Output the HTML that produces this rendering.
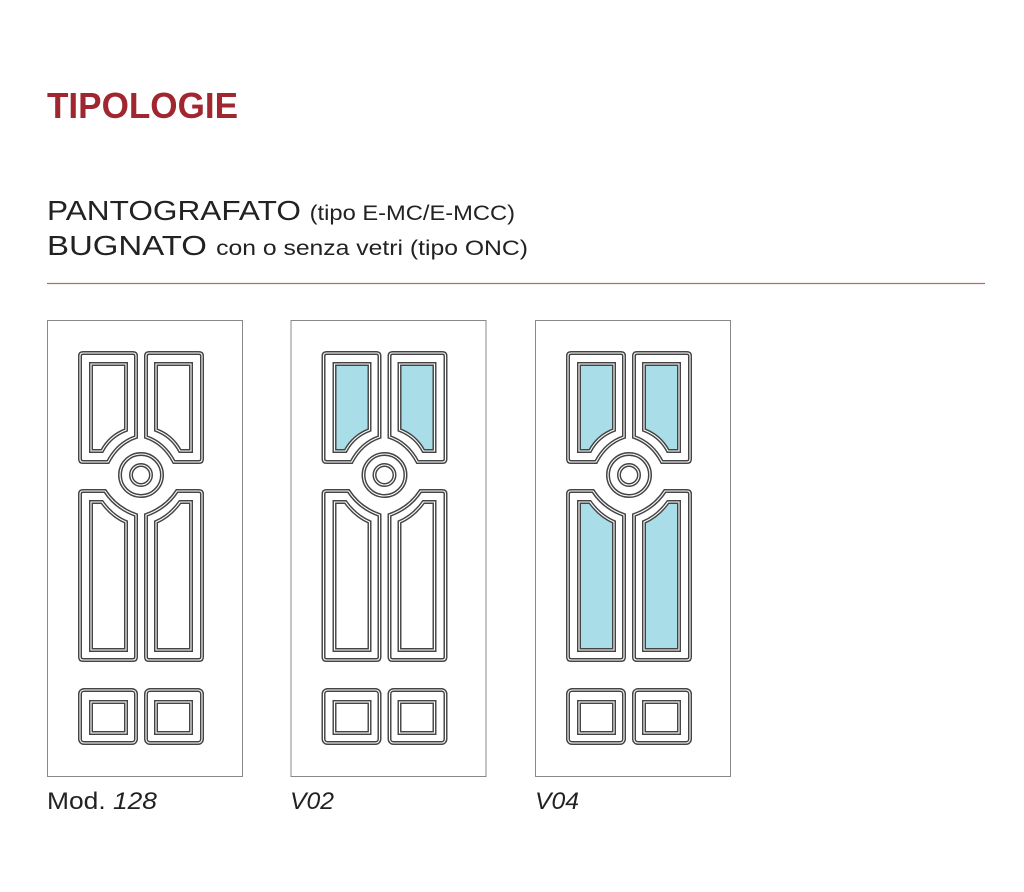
<!DOCTYPE html>
<html><head><meta charset="utf-8"><style>
html,body{margin:0;padding:0;background:#fff;}
svg{display:block;}
text{font-family:"Liberation Sans",sans-serif;}
</style></head><body>
<svg width="1024" height="892" viewBox="0 0 1024 892" xmlns="http://www.w3.org/2000/svg">
<defs>
  <path id="ulo" d="M80,356 q0,-3 3,-3 H133 q3,0 3,3 V437 Q118,443 108,462 H83 q-3,0 -3,-3 Z"/>
  <path id="uli" d="M91,364 H126 V430 Q110,436 102,451 H91 Z"/>
  <path id="llo" d="M83,491 H105 Q116,508 136,515 V657 q0,3 -3,3 H83 q-3,0 -3,-3 V494 q0,-3 3,-3 Z"/>
  <path id="lli" d="M91,502 H102 Q112,516 126,522 V650 H91 Z"/>
  <rect id="blo" x="80" y="690" width="56" height="53" rx="4"/>
  <rect id="bli" x="91" y="702" width="35" height="31"/>
  <g id="half">
    <use href="#ulo"/><use href="#uli"/><use href="#llo"/><use href="#lli"/><use href="#blo"/><use href="#bli"/>
  </g>
  <g id="panels">
    <use href="#half"/>
    <use href="#half" transform="translate(282,0) scale(-1,1)"/>
    <circle cx="141" cy="475" r="21"/>
    <circle cx="141" cy="475" r="10"/>
  </g>
  <g id="door">
    <rect x="47.5" y="320.5" width="195" height="456" fill="none" stroke="#888" stroke-width="1"/>
    <use href="#panels" fill="none" stroke="#444" stroke-width="4"/>
    <use href="#panels" fill="none" stroke="#fff" stroke-width="1.1"/>
  </g>
  <g id="glassU" fill="#a9dde8">
    <use href="#uli"/><use href="#uli" transform="translate(282,0) scale(-1,1)"/>
  </g>
  <g id="glassL" fill="#a9dde8">
    <use href="#lli"/><use href="#lli" transform="translate(282,0) scale(-1,1)"/>
  </g>
</defs>

<text x="47" y="118" font-size="36" font-weight="bold" fill="#a0262f" textLength="191" lengthAdjust="spacingAndGlyphs">TIPOLOGIE</text>
<text x="47" y="220" font-size="28" fill="#222" textLength="468" lengthAdjust="spacingAndGlyphs">PANTOGRAFATO <tspan font-size="21">(tipo E-MC/E-MCC)</tspan></text>
<text x="47" y="255" font-size="28" fill="#222" textLength="481" lengthAdjust="spacingAndGlyphs">BUGNATO <tspan font-size="21">con o senza vetri (tipo ONC)</tspan></text>
<line x1="47" y1="283.5" x2="985" y2="283.5" stroke="#c0666e" stroke-width="1.3"/>

<use href="#door"/>

<g transform="translate(243.5,0)">
  <use href="#glassU"/>
  <use href="#door"/>
</g>

<g transform="translate(488,0)">
  <use href="#glassU"/>
  <use href="#glassL"/>
  <use href="#door"/>
</g>

<text x="47" y="809" font-size="24" fill="#222" textLength="110" lengthAdjust="spacingAndGlyphs">Mod. <tspan font-style="italic">128</tspan></text>
<text x="290" y="809" font-size="24" fill="#222" font-style="italic" textLength="44" lengthAdjust="spacingAndGlyphs">V02</text>
<text x="535" y="809" font-size="24" fill="#222" font-style="italic" textLength="44" lengthAdjust="spacingAndGlyphs">V04</text>
</svg>
</body></html>
